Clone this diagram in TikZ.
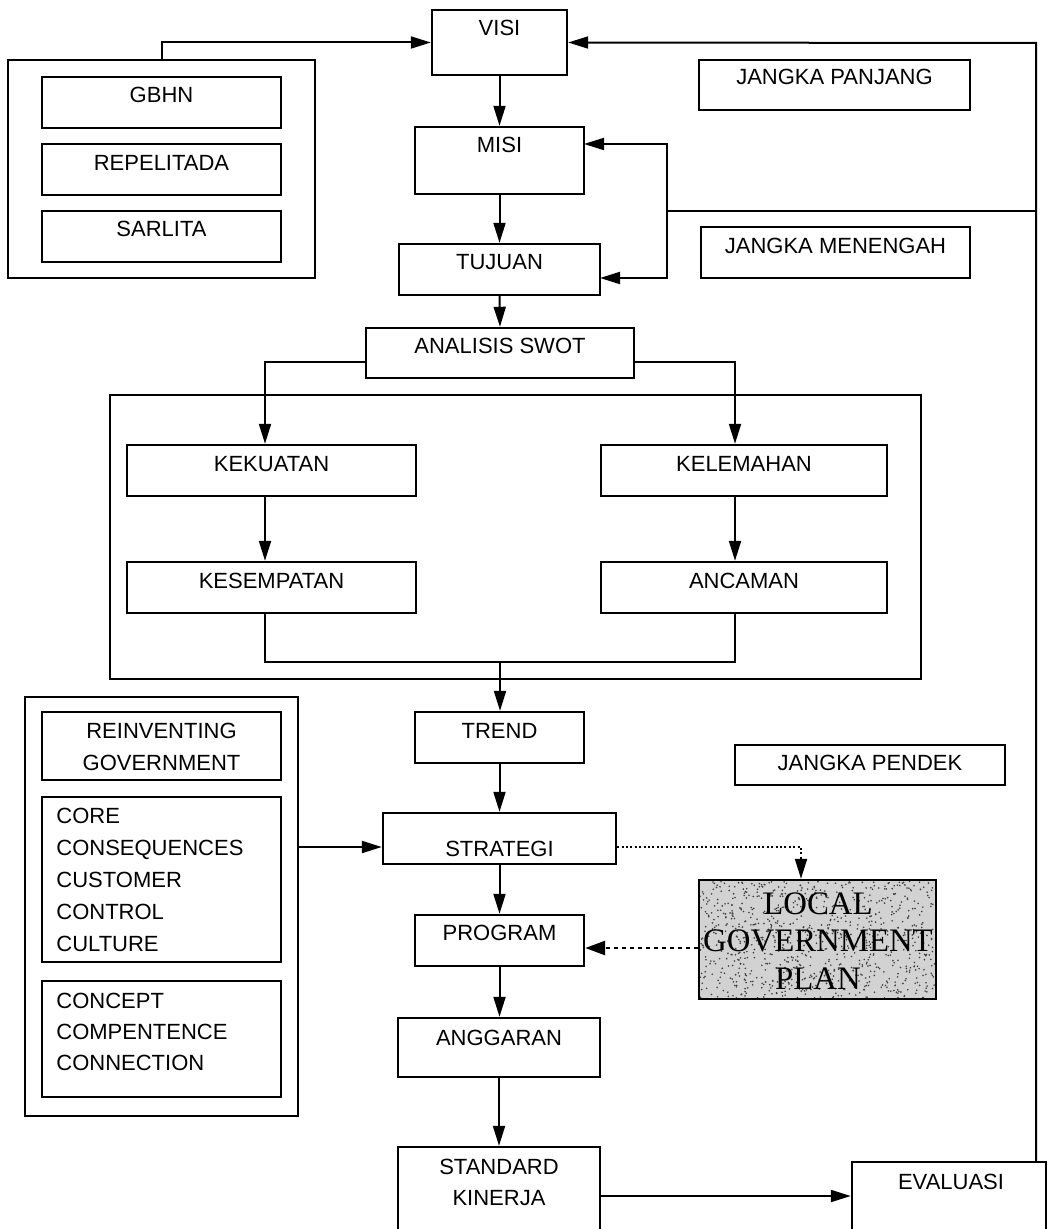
\documentclass[tikz,border=0pt]{standalone}
\usepackage{fontspec}
\setmainfont{Liberation Sans}
\newfontfamily\lgpfont{Liberation Serif}
\usetikzlibrary{arrows.meta,fit}
\tikzset{
  box/.style={draw, line width=1.2pt, inner sep=0pt, rectangle},
  txt/.style={inner sep=0pt, anchor=base, font=\fontsize{11}{13}\selectfont},
  ltxt/.style={inner sep=0pt, anchor=base west, font=\fontsize{11}{13}\selectfont},
  lgptxt/.style={inner sep=0pt, anchor=base, font=\lgpfont\fontsize{16.4}{18}\selectfont},
  ln/.style={line width=1pt},
  arr/.style={line width=1pt, -{Triangle[length=10pt,width=6pt]}},
  dotarrA/.style={line width=1pt, dash pattern=on 1pt off 1.2pt, -{Triangle[length=10pt,width=6pt]}},
  dotarrB/.style={line width=1.3pt, dash pattern=on 2pt off 2pt, -{Triangle[length=10pt,width=7pt]}}
}
\begin{document}
\begin{tikzpicture}[x=0.5pt,y=-0.5pt]
\useasboundingbox (0,0) rectangle (1048,1229);
\clip (0,0) rectangle (1048,1229);
\fill[white] (0,0) rectangle (1048,1229);

% boxes
\node[box, fit={(432,10) (567,75)}] (visi) {};
\node[box, fit={(8,60) (315,278)}] (lb1) {};
\node[box, fit={(42,77) (281,128)}] (gbhn) {};
\node[box, fit={(42,144) (281,195)}] (repel) {};
\node[box, fit={(42,211) (281,262)}] (sarl) {};
\node[box, fit={(699,60) (970,110)}] (jpan) {};
\node[box, fit={(415,127) (584,194)}] (misi) {};
\node[box, fit={(399,244) (600,295)}] (tuj) {};
\node[box, fit={(701,227) (970,278)}] (jmen) {};
\node[box, fit={(366,328) (634,378)}] (swot) {};
\node[box, fit={(110,395) (921,679)}] (big) {};
\node[box, fit={(127,445) (416,496)}] (kek) {};
\node[box, fit={(601,445) (887,496)}] (kel) {};
\node[box, fit={(127,562) (416,613)}] (kes) {};
\node[box, fit={(601,562) (887,613)}] (anc) {};
\node[box, fit={(415,712) (584,763)}] (trend) {};
\node[box, fit={(25,697) (298,1116)}] (lb2) {};
\node[box, fit={(42,712) (281,780)}] (reinv) {};
\node[box, fit={(42,797) (281,962)}] (core) {};
\node[box, fit={(42,981) (281,1097)}] (conc) {};
\node[box, fit={(735,745) (1005,785)}] (jpen) {};
\node[box, fit={(383,813) (616,864)}] (strat) {};
\node[box, fit={(415,915) (584,966)}] (prog) {};
\node[box, fit={(398,1018) (600,1077)}] (angg) {};
\node[box, fit={(398,1147) (600,1245)}] (std) {};
\node[box, fit={(852,1162) (1046,1245)}] (eval) {};

% local government plan (textured)
\fill[gray!35] (699,880) rectangle (936,999);
\pgfmathsetseed{7}
\foreach \i in {1,...,900} {
  \fill[black!75] ({700+235*rnd},{881+117*rnd}) circle[radius=0.45pt];
}
\node[box, fit={(699,880) (936,999)}] (lgp) {};
\node[lgptxt] (lgp1) at (818,914) {LOCAL};
\node[lgptxt] (lgp2) at (818,951) {GOVERNMENT};
\node[lgptxt] (lgp3) at (818,989) {PLAN};

% texts
\node[txt] (visiT) at (499.5,36) {VISI};
\node[txt] (gbhnT) at (161.5,103) {GBHN};
\node[txt] (repelT) at (161.5,171) {REPELITADA};
\node[txt] (sarlT) at (161.5,237) {SARLITA};
\node[txt] (jpanT) at (834.5,85) {JANGKA PANJANG};
\node[txt] (misiT) at (499.5,153) {MISI};
\node[txt] (tujT) at (499.5,270) {TUJUAN};
\node[txt] (jmenT) at (835.5,254) {JANGKA MENENGAH};
\node[txt] (swotT) at (500,354) {ANALISIS SWOT};
\node[txt] (kekT) at (271.5,471) {KEKUATAN};
\node[txt] (kelT) at (744,471) {KELEMAHAN};
\node[txt] (kesT) at (271.5,588) {KESEMPATAN};
\node[txt] (ancT) at (744,588) {ANCAMAN};
\node[txt] (trendT) at (499.5,738) {TREND};
\node[txt] (reinvT1) at (161.5,738) {REINVENTING};
\node[txt] (reinvT2) at (161.5,770) {GOVERNMENT};
\node[txt] (jpenT) at (870,770) {JANGKA PENDEK};
\node[txt] (stratT) at (499.5,856) {STRATEGI};
\foreach \t [count=\i] in {CORE,CONSEQUENCES,CUSTOMER,CONTROL,CULTURE}
  \node[ltxt] (coreT\i) at (56,{823+32*(\i-1)}) {\t};
\node[txt] (progT) at (499.5,940) {PROGRAM};
\foreach \t [count=\i] in {CONCEPT,COMPENTENCE,CONNECTION}
  \node[ltxt] (concT\i) at (56,{1008+31*(\i-1)}) {\t};
\node[txt] (anggT) at (499,1045) {ANGGARAN};
\node[txt] (stdT1) at (499,1174) {STANDARD};
\node[txt] (stdT2) at (499,1205) {KINERJA};
\node[txt] (evalT) at (951,1189) {EVALUASI};

% helper coordinates
\coordinate (rx) at (1036,43);
\coordinate (br) at (667,211);
\coordinate (mIn) at (584,144);
\coordinate (tIn) at (600,278);
\coordinate (sl) at (366,362);
\coordinate (sr) at (634,362);
\coordinate (xL) at (265,445);
\coordinate (xR) at (735,445);
\coordinate (jn) at (500,662);
\coordinate (sy) at (500,847);
\coordinate (dx) at (801,880);
\coordinate (py) at (600,948);
\coordinate (ey) at (700,1196);

% connectors
\draw[arr] (lb1.north) |- (visi.west);
\draw[arr] (eval.north -| rx) -- (rx) -- (visi.east);
\draw[ln] (br -| rx) -- (br);
\draw[arr] (br) |- (mIn);
\draw[arr] (br) |- (tIn);
\draw[arr] (visi.south) -- (misi.north);
\draw[arr] (misi.south) -- (tuj.north);
\draw[arr] (tuj.south) -- (swot.north);
\draw[arr] (sl) -| (kek.north -| xL);
\draw[arr] (sr) -| (kel.north -| xR);
\draw[arr] (kek.south -| xL) -- (kes.north -| xL);
\draw[arr] (kel.south -| xR) -- (anc.north -| xR);
\draw[ln] (kes.south -| xL) -- (xL |- jn) -- (xR |- jn) -- (anc.south -| xR);
\draw[arr] (jn) -- (trend.north -| jn);
\draw[arr] (trend.south) -- (strat.north);
\draw[arr] (lb2.east |- sy) -- (strat.west |- sy);
\draw[dotarrA] (strat.east |- sy) -| (lgp.north -| dx);
\draw[arr] (strat.south) -- (prog.north);
\draw[dotarrB] (lgp.west |- py) -- (prog.east |- py);
\draw[arr] (prog.south) -- (angg.north -| prog.south);
\draw[arr] (angg.south) -- (std.north);
\draw[arr] (std.east |- ey) -- (eval.west |- ey);
\end{tikzpicture}
\end{document}
